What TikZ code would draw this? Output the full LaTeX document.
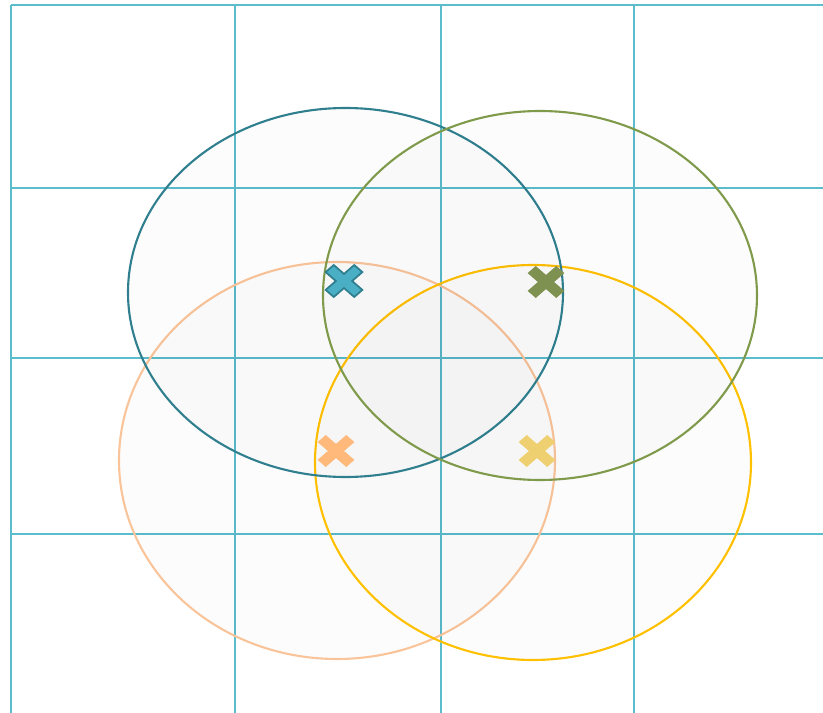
\documentclass[tikz,border=0pt]{standalone}
\usepackage{tikz}

\definecolor{gridcol}{HTML}{5BBCCC}
\definecolor{tealcol}{HTML}{2F7F8F}
\definecolor{olivecol}{HTML}{7F9A4A}
\definecolor{peachcol}{HTML}{FAC49A}
\definecolor{yellowcol}{HTML}{FFC000}
\definecolor{tealfill}{HTML}{4AAEC4}
\definecolor{olivefill}{HTML}{7F9150}
\definecolor{peachfill}{HTML}{FFB97A}
\definecolor{yellowfill}{HTML}{EED070}

\tikzset{
  xmark/.pic={
    \path[pic actions, xscale=1.15, rotate=45]
      (5,17.6) -- (5,5) -- (17.6,5) -- (17.6,-5) -- (5,-5) -- (5,-17.6)
      -- (-5,-17.6) -- (-5,-5) -- (-17.6,-5) -- (-17.6,5) -- (-5,5) -- (-5,17.6) -- cycle;
  }
}

\begin{document}
\begin{tikzpicture}[
  x=0.02cm, y=-0.02cm,
  gridline/.style={draw=gridcol, line width=0.85pt},
  cluster/.style={line width=1.2pt, fill=black, fill opacity=0.012}
]
\useasboundingbox (0,0) rectangle (823,713);

% grille
\foreach \gx in {11,235,441,634}
  \draw[gridline] (\gx,5) -- (\gx,713);
\foreach \gy in {5,188,358,534}
  \draw[gridline] (11,\gy) -- (823,\gy);

% ellipses
\draw[cluster, draw=peachcol] (337,460.5) ellipse [x radius=218, y radius=198.5];
\draw[cluster, draw=yellowcol] (533,462.5) ellipse [x radius=218, y radius=197.5];
\draw[cluster, draw=tealcol] (345.5,292.5) ellipse [x radius=217.5, y radius=184.5];
\draw[cluster, draw=olivecol] (540,295.5) ellipse [x radius=217, y radius=184.5];

% centres
\pic[fill=tealfill, draw=tealcol, line width=1pt] (tealmark) at (344,281) {xmark};
\pic[fill=olivefill] (olivemark) at (546,282) {xmark};
\pic[fill=peachfill] (peachmark) at (336,451) {xmark};
\pic[fill=yellowfill] (yellowmark) at (537,451) {xmark};
\end{tikzpicture}
\end{document}
